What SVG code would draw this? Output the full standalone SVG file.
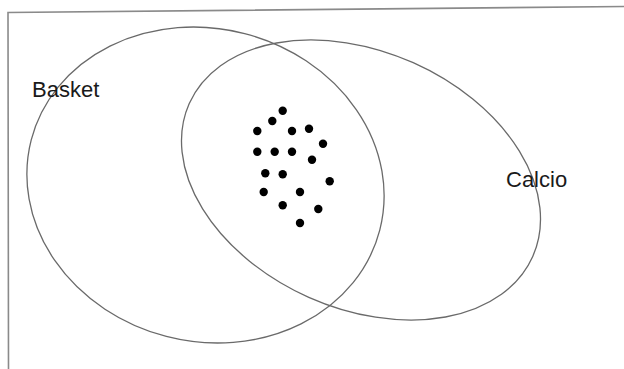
<svg xmlns="http://www.w3.org/2000/svg" width="624" height="369" viewBox="0 0 624 369">
<style>
.set{fill:none;stroke:#6a6a6a;stroke-width:1.3}
.frame{fill:none;stroke:#8a8a8a;stroke-width:1.6}
.lbl{font-family:"Liberation Sans",Arial,sans-serif;font-size:22px;fill:#1a1a1a}
.dot{fill:#000}
</style>
<rect width="624" height="369" fill="#fff"/>
<polyline class="frame" points="624,6.5 8,12.5 8.5,369"/>
<g id="basket">
<ellipse class="set" cx="205.5" cy="185" rx="180" ry="156.4" transform="rotate(14.5 205.5 185)"/>
<text class="lbl" x="32" y="96.5">Basket</text>
</g>
<g id="calcio">
<ellipse class="set" cx="361" cy="180" rx="188" ry="128.4" transform="rotate(24 361 180)"/>
<text class="lbl" x="506" y="186.5">Calcio</text>
</g>
<g id="elements">
<circle class="dot" cx="282.7" cy="110.7" r="4.2"/>
<circle class="dot" cx="272.3" cy="121" r="4.2"/>
<circle class="dot" cx="257.3" cy="131" r="4.2"/>
<circle class="dot" cx="292" cy="131" r="4.2"/>
<circle class="dot" cx="309" cy="128.7" r="4.2"/>
<circle class="dot" cx="323" cy="143.7" r="4.2"/>
<circle class="dot" cx="257.3" cy="151.7" r="4.2"/>
<circle class="dot" cx="274.7" cy="151.7" r="4.2"/>
<circle class="dot" cx="292" cy="151.7" r="4.2"/>
<circle class="dot" cx="312" cy="159.7" r="4.2"/>
<circle class="dot" cx="265.3" cy="173.3" r="4.2"/>
<circle class="dot" cx="282.7" cy="174.3" r="4.2"/>
<circle class="dot" cx="329.7" cy="181.3" r="4.2"/>
<circle class="dot" cx="263.7" cy="192" r="4.2"/>
<circle class="dot" cx="300" cy="192" r="4.2"/>
<circle class="dot" cx="282.7" cy="205.3" r="4.2"/>
<circle class="dot" cx="318.3" cy="209" r="4.2"/>
<circle class="dot" cx="300" cy="223" r="4.2"/>
</g>
</svg>
